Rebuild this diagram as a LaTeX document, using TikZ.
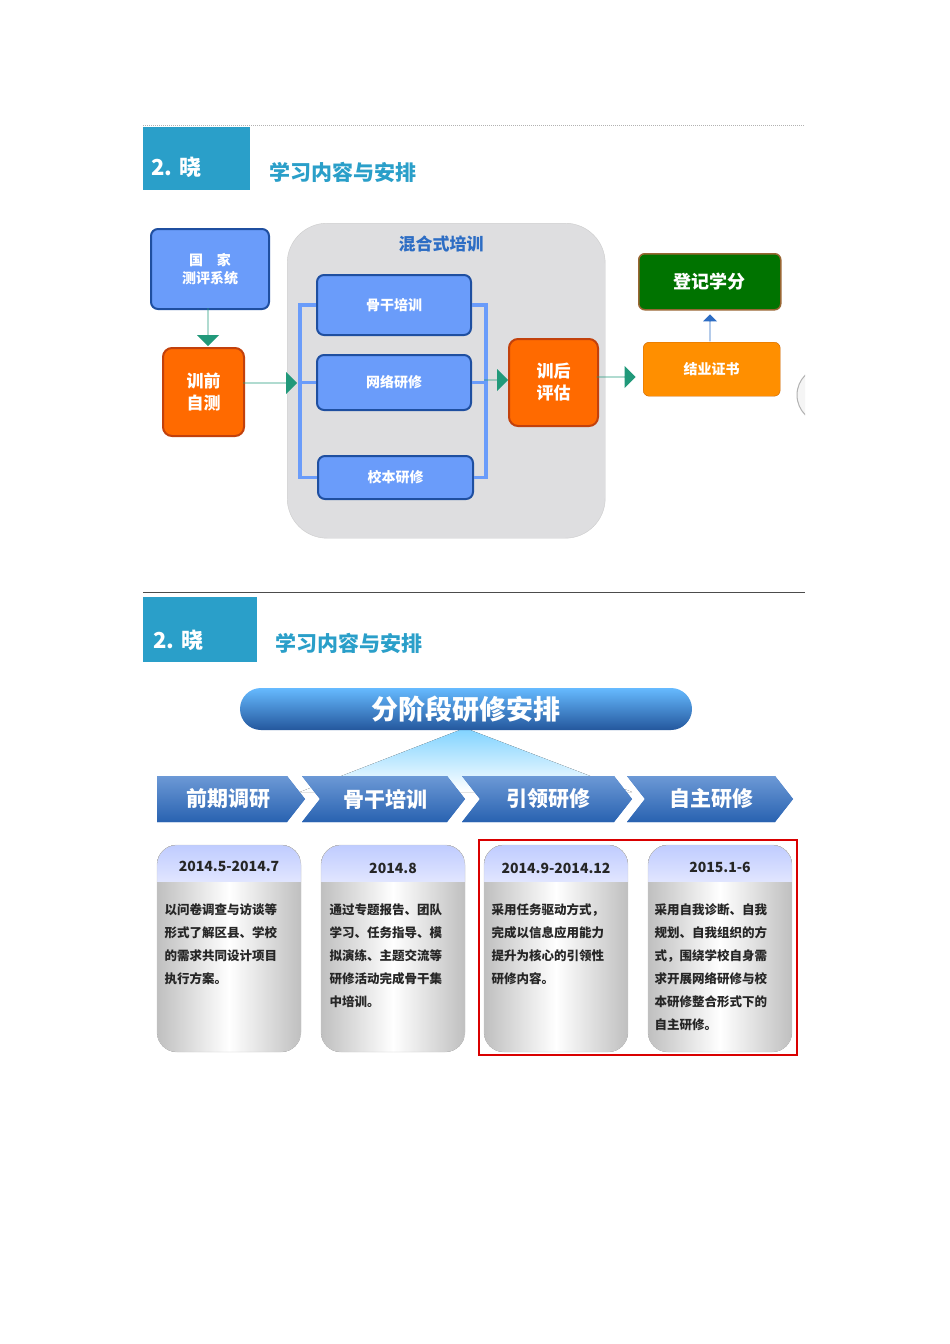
\documentclass[tikz,border=0pt]{standalone}
\usepackage{fontspec}
\setmainfont{Noto Sans CJK SC}
\setsansfont{Noto Sans CJK SC}
\usetikzlibrary{shapes.arrows,shapes.symbols}
\definecolor{hdr}{HTML}{2A9FC9}
\definecolor{bbox}{HTML}{6A9CFA}
\definecolor{bline}{HTML}{1F4FA0}
\definecolor{org}{HTML}{FF6A00}
\definecolor{orgl}{HTML}{C2410C}
\definecolor{grn}{HTML}{21997A}
\definecolor{dblue}{HTML}{2D6DC4}
\tikzset{
 hdrbox/.style={fill=hdr,draw=none},
 ttl/.style={text=hdr,font=\bfseries\fontsize{21}{24}\selectfont,anchor=west},
 bluebox/.style={draw=bline,line width=2pt,fill=bbox,rounded corners=7pt,text=white,font=\bfseries\fontsize{14}{18}\selectfont},
 orgbox/.style={draw=orgl,line width=2pt,fill=org,rounded corners=9pt,text=white,font=\bfseries\fontsize{17}{22}\selectfont,align=center},
 garrow/.style={single arrow,fill=grn,draw=none,single arrow head extend=5pt,minimum height=#1,minimum width=22pt,inner sep=0pt},
 chev/.style={fill=dblue,draw=none},
 chevtxt/.style={text=white,font=\bfseries\fontsize{21}{24}\selectfont},
 cardtxt/.style={font=\bfseries\fontsize{12.5}{23}\selectfont,align=left,anchor=north west,text=black!85},
 datetxt/.style={font=\bfseries\fontsize{14}{16}\selectfont,text=black!85}
}
\begin{document}
\begin{tikzpicture}[x=1pt,y=-1pt]
\useasboundingbox[fill=white] (0,0) rectangle (950,1344);
% ===== top panel =====
\draw[gray!60,densely dotted,line width=1pt] (143,125) -- (805,125);
\node[hdrbox,minimum width=107pt,minimum height=63pt,anchor=north west,inner sep=0pt] (h1) at (143,127) {};
\node[text=white,font=\bfseries\fontsize{22}{24}\selectfont,anchor=west] (h1t) at (148,167) {2. 晓};
\node[ttl] (t1) at (266,172) {学习内容与安排};
\node[draw=gray!40,fill=black!4!blue!4!gray!25,rounded corners=40pt,minimum width=318pt,minimum height=315pt,anchor=north west] (mix) at (287,223) {};
\node[text=dblue,font=\bfseries\fontsize{17}{20}\selectfont] (mixt) at (441,244) {混合式培训};
\node[bluebox,minimum width=118pt,minimum height=80pt,align=center,anchor=north west] (gj) at (150,228) {国\quad 家\\测评系统};
\node[orgbox,minimum width=81pt,minimum height=88pt,anchor=north west] (xq) at (162,347) {训前\\自测};
\node[bluebox,minimum width=154pt,minimum height=60pt,anchor=north west] (gg) at (316,274) {骨干培训};
\node[bluebox,minimum width=154pt,minimum height=55pt,anchor=north west] (wl) at (316,354) {网络研修};
\node[bluebox,minimum width=155pt,minimum height=43pt,anchor=north west] (xb) at (317,455) {校本研修};
\node[orgbox,minimum width=89pt,minimum height=87pt,anchor=north west] (xh) at (508,338) {训后\\评估};
\node[draw=orange!80!black,fill=orange!75!yellow!90!red,rounded corners=6pt,minimum width=137pt,minimum height=54pt,anchor=north west,text=white,font=\bfseries\fontsize{14}{16}\selectfont] (jy) at (643,342) {结业证书};
\node[draw=brown!80!black,line width=1.5pt,fill=green!45!black,rounded corners=6pt,minimum width=142pt,minimum height=56pt,anchor=north west,text=white,font=\bfseries\fontsize{18}{20}\selectfont] (dj) at (638,253) {登记学分};
% brackets
\draw[bbox,line width=3.5pt] (gg.west) -- ++(-16,0) coordinate (bl1) |- (xb.west);
\draw[bbox,line width=3.5pt] (wl.west) -- ++(-16,0);
\draw[bbox,line width=3.5pt] (gg.east) -- ++(14,0) coordinate (br1) |- (xb.east);
\draw[bbox,line width=3.5pt] (wl.east) -- ++(14,0);
% green arrows
\node[garrow=38pt,rotate=-90] (a1) at (208,327) {};
\node[garrow=54pt] (a2) at (270,383) {};
\node[garrow=24pt] (a3) at (496,380) {};
\node[garrow=39pt] (a4) at (616,377) {};
\node[single arrow,fill=dblue,draw=none,minimum height=27pt,minimum width=14pt,single arrow head extend=4pt,inner sep=0pt,rotate=90] (a5) at (710,328) {};
% partial circle at right edge
\begin{scope}
\clip (790,360) rectangle (805,430);
\draw[gray!60,line width=1pt,fill=gray!8] (825,395) circle (28pt);
\end{scope}
% ===== bottom panel =====
\draw[black!70,line width=0.8pt] (143,592) -- (805,592);
\node[hdrbox,minimum width=114pt,minimum height=65pt,anchor=north west,inner sep=0pt] (h2) at (143,597) {};
\node[text=white,font=\bfseries\fontsize{22}{24}\selectfont,anchor=west] (h2t) at (150,640) {2. 晓};
\node[ttl] (t2) at (272,643) {学习内容与安排};
% triangle
\fill[top color=blue!35!cyan!50,bottom color=white] (465,728) -- (300,792) -- (632,792) -- cycle;
\node[top color=blue!45!cyan!60,bottom color=dblue!80!black,rounded corners=21pt,minimum width=452pt,minimum height=42pt,text=white,font=\bfseries\fontsize{27}{30}\selectfont,draw=none] (pill) at (466,709) {分阶段研修安排};
% chevrons
\fill[chev,top color=dblue!70,bottom color=dblue!90!black] (157,776) -- (287,776) -- (305,799) -- (287,822) -- (157,822) -- cycle;
\fill[chev,top color=dblue!70,bottom color=dblue!90!black] (302,776) -- (447,776) -- (465,799) -- (447,822) -- (302,822) -- (320,799) -- cycle;
\fill[chev,top color=dblue!70,bottom color=dblue!90!black] (462,776) -- (614,776) -- (632,799) -- (614,822) -- (462,822) -- (480,799) -- cycle;
\fill[chev,top color=dblue!70,bottom color=dblue!90!black] (627,776) -- (775,776) -- (793,799) -- (775,822) -- (627,822) -- (645,799) -- cycle;
\node[chevtxt] (c1) at (228,799) {前期调研};
\node[chevtxt] (c2) at (385,799) {骨干培训};
\node[chevtxt] (c3) at (548,799) {引领研修};
\node[chevtxt] (c4) at (711,799) {自主研修};
% cards
\foreach \x/\n in {157/k1,321/k2,484/k3,648/k4}{
  \begin{scope}
  \path[clip,rounded corners=20pt] (\x,845) rectangle ++(144,207);
  \fill[left color=black!25,right color=black!25,middle color=white] (\x,845) rectangle ++(144,207);
  \fill[top color=cyan!20!blue!25,bottom color=cyan!15!blue!12] (\x,845) rectangle ++(144,36);
  \end{scope}
  \draw[black!20,rounded corners=20pt] (\x,845) rectangle ++(144,207);
}
\node[datetxt] (d1) at (229,866) {2014.5-2014.7};
\node[datetxt] (d2) at (393,868) {2014.8};
\node[datetxt] (d3) at (556,868) {2014.9-2014.12};
\node[datetxt] (d4) at (720,867) {2015.1-6};
\node[cardtxt] (b1) at (161,900) {以问卷调查与访谈等\\形式了解区县、学校\\的需求共同设计项目\\执行方案。};
\node[cardtxt] (b2) at (326,900) {通过专题报告、团队\\学习、任务指导、模\\拟演练、主题交流等\\研修活动完成骨干集\\中培训。};
\node[cardtxt] (b3) at (488,900) {采用任务驱动方式，\\完成以信息应用能力\\提升为核心的引领性\\研修内容。};
\node[cardtxt] (b4) at (651,900) {采用自我诊断、自我\\规划、自我组织的方\\式，围绕学校自身需\\求开展网络研修与校\\本研修整合形式下的\\自主研修。};
\draw[red!85!black,line width=2pt] (479,840) rectangle (797,1055);
\end{tikzpicture}
\end{document}
